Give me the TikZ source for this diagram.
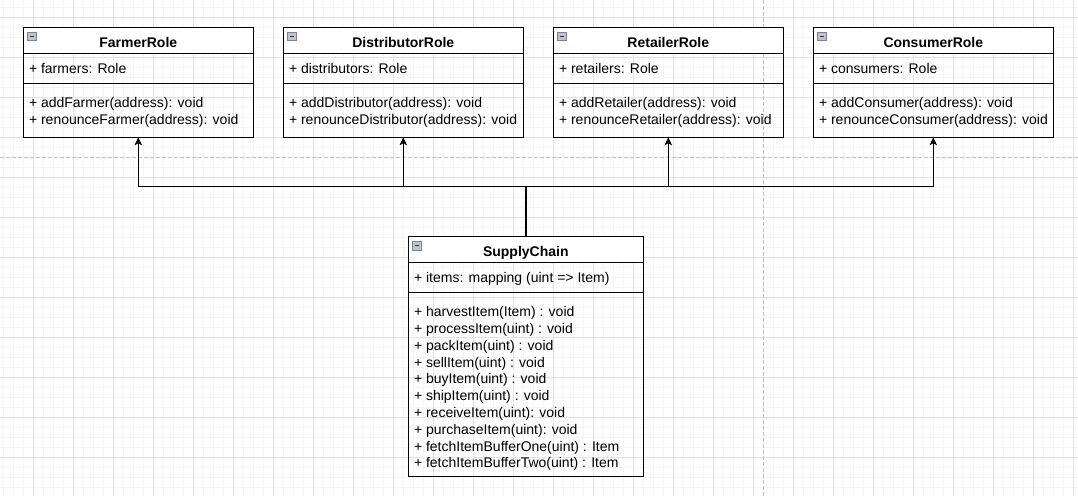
\documentclass[tikz,border=0pt]{standalone}
\usepackage{fontspec}
\setmainfont{Liberation Sans}
\usetikzlibrary{arrows.meta}
\definecolor{minorgrid}{RGB}{244,244,244}
\definecolor{majorgrid}{RGB}{226,226,226}
\definecolor{pagebreak}{RGB}{192,192,192}
\definecolor{iconfill}{RGB}{190,195,205}
\definecolor{iconline}{RGB}{125,130,142}
\tikzset{
  classbox/.style={draw=black, line width=1pt, inner sep=0pt, outer sep=0pt, rectangle},
  sepline/.style={draw=black, line width=1pt},
  titletext/.style={font=\fontsize{14}{16.8}\selectfont\bfseries, inner sep=0pt, anchor=base},
  rowtext/.style={font=\fontsize{14}{16.8}\selectfont, inner sep=0pt, anchor=base west},
  iconbox/.style={draw=iconline, fill=iconfill, line width=0.8pt, minimum size=8.5pt, inner sep=0pt, anchor=north west,
    path picture={\draw[line width=1pt, black!80] ([xshift=1.8pt]path picture bounding box.west) -- ([xshift=-1.8pt]path picture bounding box.east);}},
  conn/.style={draw=black, line width=1pt, -{Stealth[length=8pt,width=7.5pt,inset=2pt]}},
  trunk/.style={draw=black, line width=2pt},
  minorline/.style={draw=minorgrid, line width=1pt},
  majorline/.style={draw=majorgrid, line width=1pt},
  breakline/.style={draw=pagebreak, line width=1pt, dash pattern=on 3.5pt off 2.5pt},
}
% name, left, top, width, height, title, attribute, methods
\newcommand\umlclass[8]{%
  \fill[white] (#2,#3) rectangle ++(#4,26);
  \draw[sepline] (#2,#3+26) -- ++(#4,0);
  \draw[sepline] (#2,#3+56) -- ++(#4,0);
  \node[classbox, minimum width=#4pt, minimum height=#5pt, anchor=north west] (#1) at (#2,#3) {};
  \node[iconbox] (#1-icon) at (#2+4,#3+4.5) {};
  \node[titletext] (#1-title) at (#2+#4/2,#3+20) {#6};
  \node[rowtext] (#1-attr) at (#2+5.5,#3+46) {#7};
  \foreach \m [count=\i from 0] in {#8} \node[rowtext] (#1-m\i) at (#2+5.5,#3+80+16.8*\i) {\m};
}
\begin{document}
\begin{tikzpicture}[x=1pt,y=-1pt]
\useasboundingbox (0,0) rectangle (1078,496);
\fill[white] (0,0) rectangle (1078,496);
% grid
\foreach \i in {0,...,107} \draw[minorline] ({3.3+10*\i},0) -- ++(0,496);
\foreach \i in {0,...,48} \draw[minorline] (0,{7.3+10*\i}) -- ++(1078,0);
\foreach \i in {0,...,26} \draw[majorline] ({33.3+40*\i},0) -- ++(0,496);
\foreach \i in {0,...,11} \draw[majorline] (0,{17.3+40*\i}) -- ++(1078,0);
% page breaks
\draw[breakline] (0,157.3) -- (1078,157.3);
\draw[breakline] (763.3,0) -- (763.3,496);
% classes
\umlclass{farmer}{23.3}{27.3}{230}{110}{FarmerRole}{+ farmers: Role}{{+ addFarmer(address): void},{+ renounceFarmer(address): void}}
\umlclass{distributor}{283.3}{27.3}{240}{110}{DistributorRole}{+ distributors: Role}{{+ addDistributor(address): void},{+ renounceDistributor(address): void}}
\umlclass{retailer}{553.3}{27.3}{230}{110}{RetailerRole}{+ retailers: Role}{{+ addRetailer(address): void},{+ renounceRetailer(address): void}}
\umlclass{consumer}{813.3}{27.3}{240}{110}{ConsumerRole}{+ consumers: Role}{{+ addConsumer(address): void},{+ renounceConsumer(address): void}}
\umlclass{sc}{408.3}{236.7}{235}{240}{SupplyChain}{+ items: mapping (uint => Item)}{{+ harvestItem(Item) : void},{+ processItem(uint) : void},{+ packItem(uint) : void},{+ sellItem(uint) : void},{+ buyItem(uint) : void},{+ shipItem(uint) : void},{+ receiveItem(uint): void},{+ purchaseItem(uint): void},{+ fetchItemBufferOne(uint) : Item},{+ fetchItemBufferTwo(uint) : Item}}
% connectors
\coordinate (hub) at (sc.north |- 0,186.7);
\draw[conn] (sc.north) -- (hub) -| (farmer.south);
\draw[conn] (sc.north) -- (hub) -| (distributor.south);
\draw[conn] (sc.north) -- (hub) -| (retailer.south);
\draw[conn] (sc.north) -- (hub) -| (consumer.south);
\draw[trunk] (sc.north) -- (hub);
\end{tikzpicture}
\end{document}
